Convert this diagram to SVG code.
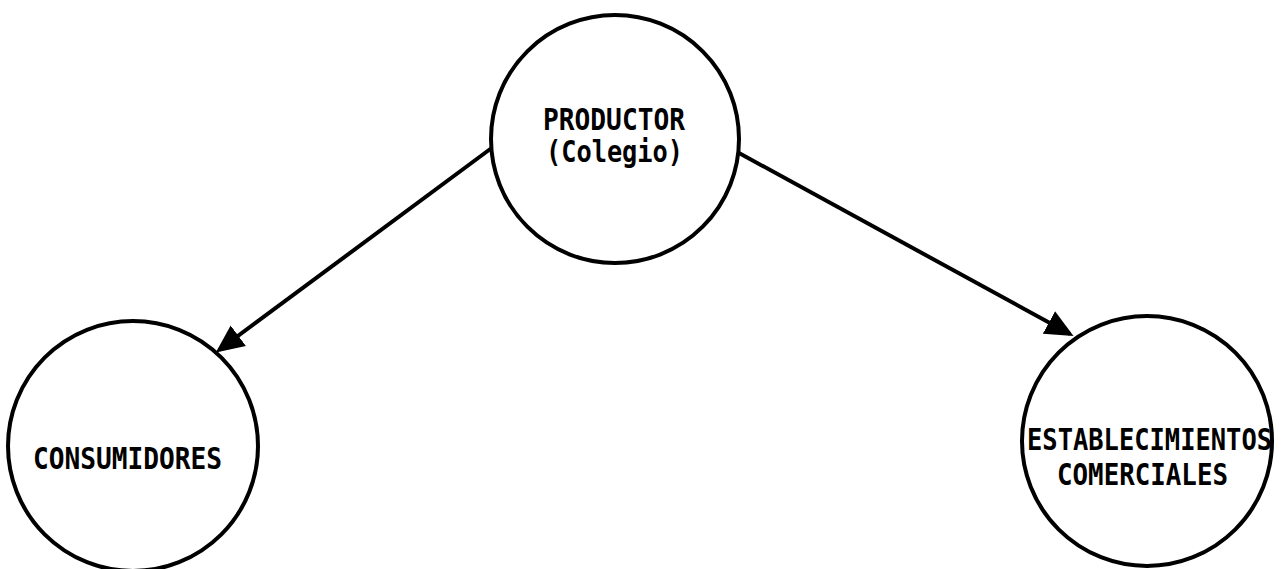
<svg xmlns="http://www.w3.org/2000/svg" width="1283" height="569" viewBox="0 0 1283 569">
<style>
.node circle{fill:#fff;stroke:#000;stroke-width:4}
.lbl{font-family:"DejaVu Sans Mono","Liberation Mono",monospace;font-weight:bold;font-size:30px;fill:#000}
.conn line{stroke:#000;stroke-width:4}
</style>
<defs>
<marker id="ah" markerWidth="8" markerHeight="8" refX="6" refY="4" orient="auto" markerUnits="strokeWidth">
<path d="M0,0.8 L7,4 L0,7.2 Z" fill="#000"/>
</marker>
</defs>
<rect width="1283" height="569" fill="#fff"/>
<g id="connectors" class="conn">
<line x1="493" y1="147" x2="219" y2="350" marker-end="url(#ah)"/>
<line x1="739" y1="153" x2="1070" y2="334" marker-end="url(#ah)"/>
</g>
<g id="productor" class="node">
<circle cx="615" cy="139" r="124"/>
<text class="lbl" x="543" y="130" textLength="142" lengthAdjust="spacingAndGlyphs">PRODUCTOR</text>
<text class="lbl" x="546" y="162" textLength="137" lengthAdjust="spacingAndGlyphs">(Colegio)</text>
</g>
<g id="consumidores" class="node">
<circle cx="133" cy="446" r="125"/>
<text class="lbl" x="33" y="469" textLength="189" lengthAdjust="spacingAndGlyphs">CONSUMIDORES</text>
</g>
<g id="establecimientos" class="node">
<circle cx="1147" cy="441" r="125"/>
<text class="lbl" x="1027" y="450" textLength="245" lengthAdjust="spacingAndGlyphs">ESTABLECIMIENTOS</text>
<text class="lbl" x="1057" y="485" textLength="171" lengthAdjust="spacingAndGlyphs">COMERCIALES</text>
</g>
</svg>
